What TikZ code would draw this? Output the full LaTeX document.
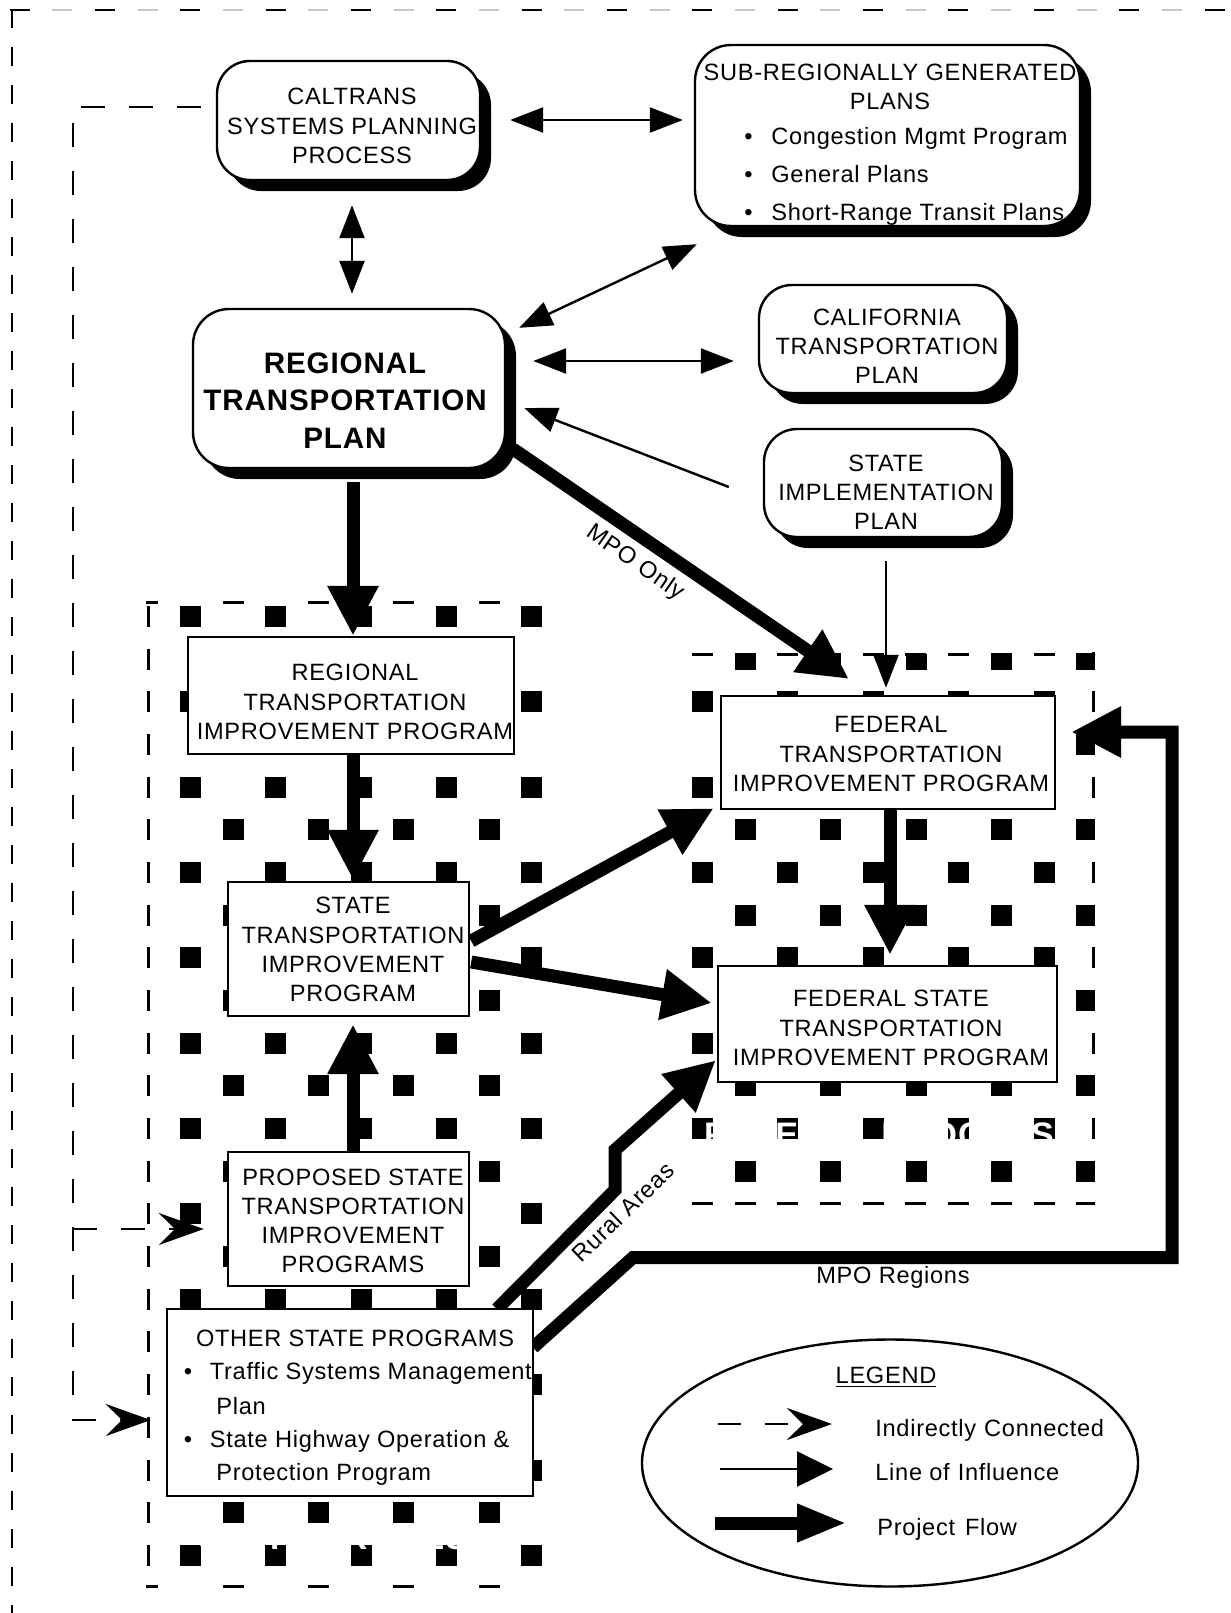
\documentclass[tikz,border=0pt]{standalone}
\usepackage{fontspec}
\setmainfont{Liberation Sans}[LetterSpace=3]
\usetikzlibrary{arrows.meta,shadows,calc,shapes.geometric}
\begin{document}
\begin{tikzpicture}[x=0.5pt,y=-0.5pt,
  rbox/.style={draw,line width=1.2pt,fill=white,inner sep=0pt,rounded corners=16.5pt,
     drop shadow={shadow xshift=5.5pt,shadow yshift=-5.5pt,fill=black,opacity=1}},
  sbox/.style={draw,line width=1.2pt,fill=white,inner sep=0pt},
  lbl/.style={inner sep=0pt,align=center,font=\fontsize{11.8}{14.6}\selectfont},
  rtpfont/.style={inner sep=0pt,align=center,font=\fontsize{14.8}{18.75}\selectfont\bfseries},
  infl/.style={line width=1.2pt,-{Triangle[length=16.5pt,width=12.5pt]}},
  dbl/.style={line width=1.2pt,{Triangle[length=16.5pt,width=12.5pt]}-{Triangle[length=16.5pt,width=12.5pt]}},
  flow/.style={line width=6.5pt,line join=miter,-{Triangle[length=25pt,width=24pt]}},
  indir/.style={line width=1.2pt,dash pattern=on 12pt off 12pt,-{Stealth[length=22.5pt,width=16pt,inset=8pt]}},
  bd/.style={line width=1.5pt},
  hid/.style={inner sep=0pt,text=white,font=\fontsize{17}{20}\selectfont\bfseries},
]
\useasboundingbox (0,0) rectangle (1231,1613);
\fill[white] (0,0) rectangle (1231,1613);

% outer dashed frame
\draw[line width=1.4pt,black!22,dash pattern=on 10pt off 32.675pt] (52.3,10) -- (1231,10);
\draw[line width=1.4pt,dash pattern=on 10pt off 32.675pt] (9.6,10) -- (1231,10);
\draw[line width=1.4pt,dash pattern=on 9.5pt off 9.5pt] (12,9.3) -- (12,1613);

% dotted pattern regions
\begin{scope}
\clip (148,602) rectangle (550,1586) (687,654) rectangle (1093,1203);
\foreach \i in {0,...,10}{\foreach \j in {0,...,11}{
  \fill ({180+85.35*\i},{606+85.35*\j}) rectangle ++(21,21);
  \fill ({222.7+85.35*\i},{648.7+85.35*\j}) rectangle ++(21,21);
}}
\end{scope}
\begin{scope}
\clip (146,600) rectangle (552,1588) (685,652) rectangle (1095,1205);
\foreach \k in {-1,...,4}{
  \draw[bd] ({222.7+85.35*\k},602) -- ++(21,0);
  \draw[bd] ({222.7+85.35*\k},1586) -- ++(21,0);}
\foreach \k in {-1,...,23}{\draw[bd] (148,{606+42.675*\k}) -- ++(0,21);}
\foreach \k in {11,...,22}{
  \draw[bd] ({180+42.675*\k},654) -- ++(21,0);
  \draw[bd] ({180+42.675*\k},1203) -- ++(21,0);}
\foreach \k in {0,...,14}{\draw[bd] (1093,{606+42.675*\k}) -- ++(0,21);}
\end{scope}
\node[hid] (fedp) at (879,1135) {FEDERAL PROCESS};
\node[hid] (statep) at (345,1538) {STATE PROCESS};

% upper boxes
\node[rbox,minimum width=131.5pt,minimum height=59.5pt] (cal) at (348.5,120.5) {};
\node[rbox,rounded corners=18pt,minimum width=192.5pt,minimum height=90.5pt] (sub) at (887.5,135.5) {};
\node[rbox,minimum width=124pt,minimum height=54pt] (calp) at (883,339) {};
\node[rbox,minimum width=119pt,minimum height=54pt] (sip) at (883,483) {};

% thick flow from RTP (starts under its shadow)
\draw[flow] (513,449) coordinate (mpoA) -- (849,679) coordinate (mpoB);
\node[rbox,rounded corners=18pt,minimum width=156pt,minimum height=79.5pt] (rtp) at (349,388.5) {};

% thin connectors
\draw[dbl] ($(cal.east)+(29,-0.5)$) -- ($(sub.west)+(-11,-15.5)$);
\draw[dbl] ($(cal.south)+(3.5,24)$) -- ($(cal.south |- rtp.north)+(3.5,-14)$);
\draw[dbl] ($(rtp.north east)+(13,20)$) -- ($(sub.south west)+(3,17)$);
\draw[dbl] ($(rtp.east)+(27,-27.5)$) -- ($(calp.west)+(-24,22)$);
\draw[infl] ($(sip.west)+(-34,4)$) -- ($(rtp.east)+(18,19.5)$);

\node[sbox,minimum width=163pt,minimum height=58.5pt] (rtip) at (351,695.5) {};
\node[sbox,minimum width=120.5pt,minimum height=67pt] (stip) at (348.5,949) {};
\node[sbox,minimum width=120.5pt,minimum height=67pt] (pstip) at (348.5,1219) {};
\node[sbox,minimum width=167pt,minimum height=56.5pt] (ftip) at (888,752.5) {};
\node[sbox,minimum width=169.5pt,minimum height=58pt] (fstip) at (887.5,1024) {};

\draw[infl] ($(sip.south)+(3,23)$) -- ($(sip.south |- ftip.north)+(3,-7)$);

% project flow
\draw[flow] ($(rtp.south)+(4,13)$) -- ($(rtp.south |- rtip.north)+(4,0)$);
\draw[flow] ($(rtip.south)+(2,0)$) -- ($(rtip.south |- stip.north)+(2,-1)$);
\draw[flow] ($(pstip.north)+(4.5,0)$) -- ($(pstip.north |- stip.south)+(4.5,7)$);
\draw[flow] ($(ftip.south)+(2,0)$) -- ($(ftip.south |- fstip.north)+(2,-10)$);
\draw[flow] ($(stip.east)+(1,-8)$) -- ($(ftip.south west)+(-6,-2)$);
\draw[flow] ($(stip.east)+(1,13)$) -- ($(fstip.west)+(-5,-21)$);

\coordinate (oneA) at (497,1309);
\draw[flow] (oneA) -- ++(118,-119) -- ++(0,-40) -- ($(fstip.south west)+(-1,-23)$);
\coordinate (twoA) at (533,1347.5);
\draw[flow] (twoA) -- ++(100,-90) -- ++(539,0) |- ($(ftip.east)+(15,-20.5)$);

\node[sbox,minimum width=183pt,minimum height=93.5pt] (osp) at (350,1402.5) {};

% indirect connections
\coordinate (dtop) at (73,107);
\coordinate (dmid) at (73,1229);
\coordinate (dbot) at (73,1420);
\draw[indir] ($(cal.west)+(-15,-13.5)$) -- (dtop) -- (dbot) -- ($(osp.west)+(-15,17.5)$);
\draw[indir] (dmid) -- ($(pstip.west)+(-23,10)$);

% texts
\node[lbl] (cal-t) at (352,126) {CALTRANS\\SYSTEMS PLANNING\\PROCESS};
\node[lbl] (sub-t) at (890,86.5) {SUB-REGIONALLY GENERATED\\PLANS};
\node[lbl,anchor=base west] (sub-b1) at (744,144.4) {\makebox[13.5pt][l]{•}Congestion Mgmt Program};
\node[lbl,anchor=base west] (sub-b2) at (744,182.4) {\makebox[13.5pt][l]{•}General Plans};
\node[lbl,anchor=base west] (sub-b3) at (744,220.4) {\makebox[13.5pt][l]{•}Short-Range Transit Plans};
\node[rtpfont] (rtp-t) at (345,400.5) {REGIONAL\\TRANSPORTATION\\PLAN};
\node[lbl] (calp-t) at (887,346.5) {CALIFORNIA\\TRANSPORTATION\\PLAN};
\node[lbl] (sip-t) at (886,492.5) {STATE\\IMPLEMENTATION\\PLAN};
\node[lbl] (rtip-t) at (355,702) {REGIONAL\\TRANSPORTATION\\IMPROVEMENT PROGRAM};
\node[lbl] (stip-t) at (353,949.5) {STATE\\TRANSPORTATION\\IMPROVEMENT\\PROGRAM};
\node[lbl] (pstip-t) at (353,1221) {PROPOSED STATE\\TRANSPORTATION\\IMPROVEMENT\\PROGRAMS};
\node[lbl] (osp-t) at (355,1338) {OTHER STATE PROGRAMS};
\node[lbl,anchor=base west] (osp-b1) at (183.5,1379.5) {\makebox[13pt][l]{•}Traffic Systems Management};
\node[lbl,anchor=base west] (osp-l2) at (216,1414.4) {Plan};
\node[lbl,anchor=base west] (osp-b2) at (183.5,1447.4) {\makebox[13pt][l]{•}State Highway Operation \&};
\node[lbl,anchor=base west] (osp-l4) at (216,1480.4) {Protection Program};
\node[lbl] (ftip-t) at (891,754) {FEDERAL\\TRANSPORTATION\\IMPROVEMENT PROGRAM};
\node[lbl] (fstip-t) at (891,1028) {FEDERAL STATE\\TRANSPORTATION\\IMPROVEMENT PROGRAM};

\node[lbl,rotate=-34.7] (mpo1) at (635,563) {MPO Only};
\node[lbl,rotate=44] (rural) at (623,1212) {Rural Areas};
\node[lbl] (mpo2) at (893,1277) {MPO Regions};

% legend
\node[draw,line width=1.2pt,ellipse,fill=white,inner sep=0pt,minimum width=248pt,minimum height=123.5pt] (leg) at (890,1463) {};
\node[lbl,anchor=base] (leg-t) at (886,1383) {\underline{LEGEND}};
\coordinate (l1a) at (718,1424); \coordinate (l1b) at (832,1424);
\coordinate (l2a) at (720,1469); \coordinate (l2b) at (833,1469);
\coordinate (l3a) at (715,1523); \coordinate (l3b) at (847,1523);
\draw[indir,dash pattern=on 11.5pt off 12pt] (l1a) -- (l1b);
\draw[line width=1.2pt,-{Triangle[length=18pt,width=17.5pt]}] (l2a) -- (l2b);
\draw[line width=6.5pt,-{Triangle[length=25pt,width=17.5pt]}] (l3a) -- (l3b);
\node[lbl,anchor=base west] (leg1) at (875,1436) {Indirectly\hspace{4pt}Connected};
\node[lbl,anchor=base west] (leg2) at (875,1480) {Line of\hspace{4pt}Influence};
\node[lbl,anchor=base west] (leg3) at (877,1535) {Project\hspace{5pt}Flow};
\end{tikzpicture}
\end{document}
